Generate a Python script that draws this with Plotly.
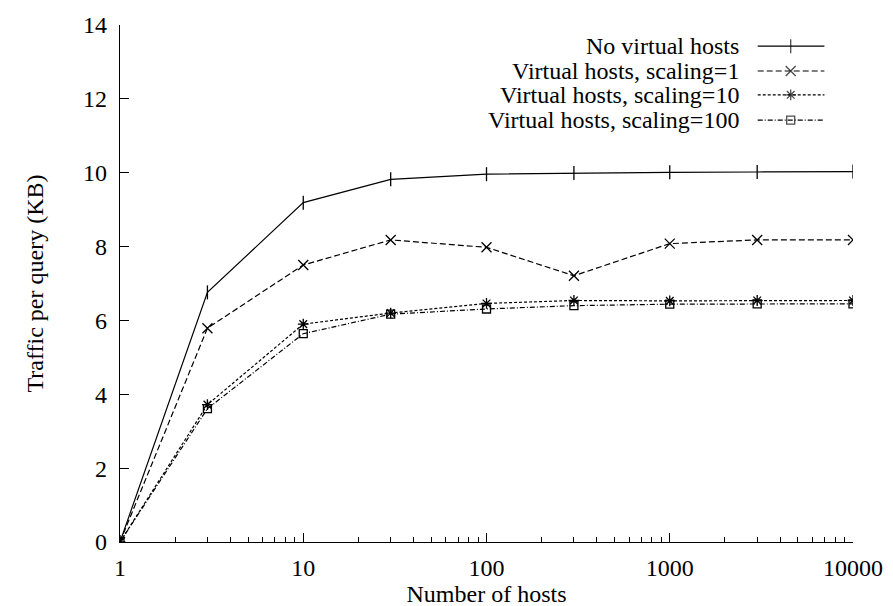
import plotly.graph_objects as go

hosts = [1, 3, 10, 30, 100, 300, 1000, 3000, 10000]
no_virtual = [0, 6.76, 9.19, 9.82, 9.96, 9.99, 10.01, 10.02, 10.03]
scaling_1 = [0, 5.79, 7.5, 8.18, 7.98, 7.21, 8.08, 8.18, 8.18]
scaling_10 = [0, 3.72, 5.9, 6.2, 6.46, 6.54, 6.53, 6.54, 6.54]
scaling_100 = [0, 3.61, 5.64, 6.17, 6.31, 6.4, 6.44, 6.45, 6.45]

names = ["No virtual hosts", "Virtual hosts, scaling=1",
         "Virtual hosts, scaling=10", "Virtual hosts, scaling=100"]
series = [no_virtual, scaling_1, scaling_10, scaling_100]
dashes = ["solid", "6px,3px", "3px,2px", "5px,2px,1px,2px"]
symbols = ["line-ns", "x-thin", "asterisk", "square-open"]
msizes = [10, 10, 9, 8]
y_ticks = [0, 2, 4, 6, 8, 10, 12, 14]
x_ticks = [1, 10, 100, 1000, 10000]

FONT = "Liberation Serif"
FS = 24
fig = go.Figure()
for name, vals, dash, sym, ms in zip(names, series, dashes, symbols, msizes):
    fig.add_trace(go.Scatter(
        x=hosts, y=vals, mode="lines+markers", name=name, showlegend=False,
        line=dict(color="black", width=1.2, dash=dash),
        marker=dict(symbol=sym, size=ms, color="black",
                    line=dict(color="black", width=1.3)),
    ))

# manual gnuplot-style key (text on the left, sample on the right)
key_rows = [0.959, 0.911, 0.865, 0.816]
key_text_x = 0.847
key_sample = [0.870, 0.915, 0.961]
for name, dash, sym, ms, ry in zip(names, dashes, symbols, msizes, key_rows):
    fig.add_annotation(x=key_text_x, y=ry, xref="paper", yref="paper",
                       text=name, showarrow=False, xanchor="right",
                       yanchor="middle", font=dict(family=FONT, size=FS, color="black"))
    fig.add_trace(go.Scatter(
        x=key_sample, y=[ry] * 3, xaxis="x2", yaxis="y2", mode="lines+markers",
        showlegend=False, hoverinfo="skip",
        line=dict(color="black", width=1.2, dash=dash),
        marker=dict(symbol=sym, size=[0, ms, 0], color="black",
                    line=dict(color="black", width=1.3)),
    ))

fig.update_layout(
    width=893, height=606,
    margin=dict(l=112, r=48, t=17, b=72, autoexpand=False),
    paper_bgcolor="white", plot_bgcolor="white",
    font=dict(family=FONT, size=FS, color="black"),
    xaxis=dict(type="log", range=[0, 4], tickvals=x_ticks,
               ticktext=[str(v) for v in x_ticks], automargin=False,
               showline=True, linecolor="black", linewidth=1.2,
               ticks="inside", ticklen=9, tickwidth=1.2, tickcolor="black",
               ticklabelstandoff=4,
               minor=dict(ticks="inside", ticklen=5, tickwidth=1, tickcolor="black",
                          dtick="D1", showgrid=False),
               showgrid=False, zeroline=False,
               title=dict(text="Number of hosts", standoff=2,
                          font=dict(family=FONT, size=FS))),
    yaxis=dict(range=[0, 14], tickvals=y_ticks, automargin=False,
               showline=True, linecolor="black", linewidth=1.2,
               ticks="inside", ticklen=9, tickwidth=1.2, tickcolor="black",
               ticklabelstandoff=7,
               showgrid=False, zeroline=False,
               title=dict(text="Traffic per query (KB)", standoff=32,
                          font=dict(family=FONT, size=FS))),
    xaxis2=dict(overlaying="x", range=[0, 1], visible=False, fixedrange=True),
    yaxis2=dict(overlaying="y", range=[0, 1], visible=False, fixedrange=True),
)

fig.write_html("out.html")
